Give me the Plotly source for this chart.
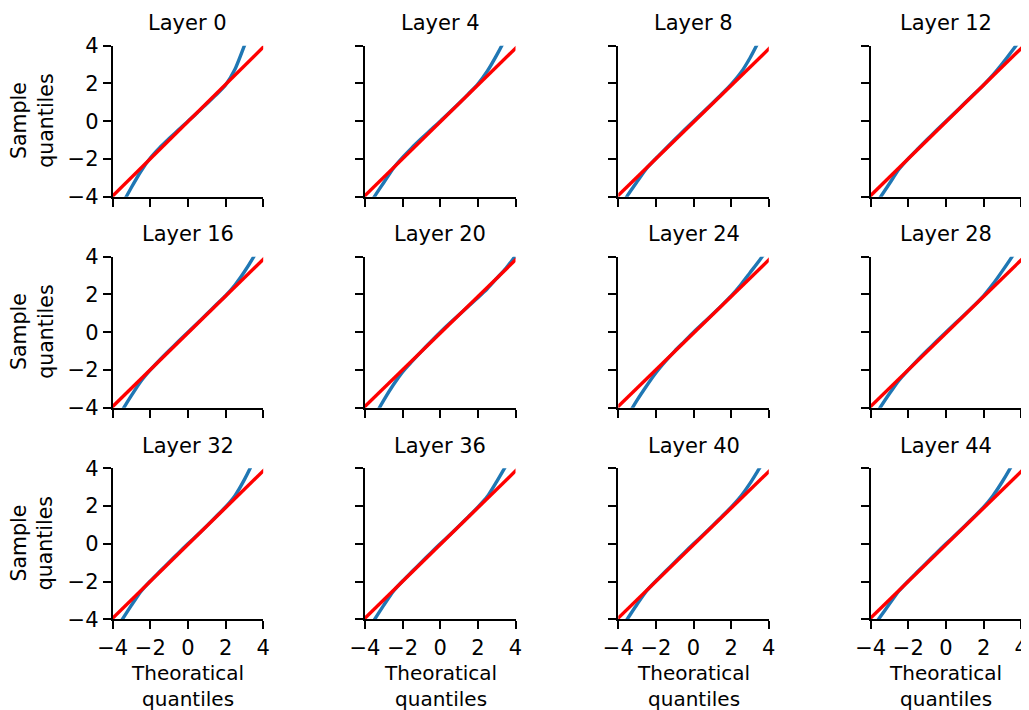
import plotly.graph_objects as go

# ---------------- data ----------------
layers = ["Layer 0", "Layer 4", "Layer 8", "Layer 12",
          "Layer 16", "Layer 20", "Layer 24", "Layer 28",
          "Layer 32", "Layer 36", "Layer 40", "Layer 44"]

theoretical = [-4.5, -4, -3.5, -3, -2.5, -2, -1.5, -1, -0.5, 0,
               0.5, 1, 1.5, 2, 2.5, 3, 3.5, 4, 4.5]

sample_l0 = [-6.5, -5.3, -4.4, -3.5, -2.65, -1.95, -1.4, -0.92, -0.45, 0.0, 0.45, 0.93, 1.4, 1.92, 2.75, 4.0, 5.4, 7.0, 8.5]
sample_l4 = [-5.8, -4.9, -4.0, -3.25, -2.5, -1.92, -1.4, -0.92, -0.45, 0.0, 0.47, 0.95, 1.45, 1.97, 2.65, 3.5, 4.45, 5.5, 6.6]
sample_l8 = [-5.6, -4.75, -3.92, -3.2, -2.5, -1.97, -1.47, -0.97, -0.48, 0.0, 0.47, 0.95, 1.44, 1.95, 2.55, 3.35, 4.3, 5.3, 6.4]
sample_l12 = [-5.8, -4.9, -4.05, -3.3, -2.55, -1.98, -1.47, -0.97, -0.48, 0.0, 0.47, 0.96, 1.44, 1.92, 2.45, 3.05, 3.7, 4.4, 5.2]
sample_l16 = [-6.0, -5.0, -4.15, -3.35, -2.6, -2.0, -1.47, -0.97, -0.48, 0.0, 0.48, 0.96, 1.45, 1.93, 2.5, 3.2, 4.0, 4.9, 5.9]
sample_l20 = [-7.0, -5.6, -4.5, -3.6, -2.8, -2.1, -1.55, -1.02, -0.5, 0.0, 0.47, 0.93, 1.38, 1.83, 2.3, 2.85, 3.4, 4.05, 4.8]
sample_l24 = [-6.8, -5.5, -4.45, -3.6, -2.85, -2.15, -1.55, -1.0, -0.5, 0.0, 0.47, 0.94, 1.42, 1.92, 2.5, 3.15, 3.8, 4.5, 5.3]
sample_l28 = [-5.7, -4.85, -4.0, -3.25, -2.55, -2.0, -1.47, -0.97, -0.48, 0.0, 0.47, 0.94, 1.42, 1.93, 2.55, 3.25, 3.98, 4.8, 5.7]
sample_l32 = [-5.6, -4.8, -4.02, -3.25, -2.52, -1.97, -1.47, -0.97, -0.48, 0.0, 0.47, 0.95, 1.45, 1.95, 2.55, 3.4, 4.4, 5.5, 6.6]
sample_l36 = [-5.6, -4.8, -4.02, -3.25, -2.52, -1.97, -1.47, -0.97, -0.48, 0.0, 0.47, 0.95, 1.44, 1.94, 2.5, 3.3, 4.15, 5.1, 6.1]
sample_l40 = [-5.5, -4.7, -3.95, -3.2, -2.5, -1.97, -1.47, -0.97, -0.48, 0.0, 0.47, 0.95, 1.44, 1.94, 2.5, 3.2, 4.0, 4.8, 5.7]
sample_l44 = [-5.4, -4.6, -3.88, -3.18, -2.5, -1.97, -1.47, -0.97, -0.48, 0.0, 0.47, 0.95, 1.44, 1.94, 2.55, 3.3, 4.15, 5.1, 6.1]

samples = [sample_l0, sample_l4, sample_l8, sample_l12,
           sample_l16, sample_l20, sample_l24, sample_l28,
           sample_l32, sample_l36, sample_l40, sample_l44]

# fitted reference line (slope, intercept) per layer
line_slope = [0.985, 0.975, 0.97, 0.975, 0.975, 0.97, 0.97, 0.97, 0.975, 0.975, 0.97, 0.97]
line_intercept = [-0.02, -0.04, -0.05, -0.04, -0.04, -0.05, -0.05, -0.05, -0.04, -0.04, -0.05, -0.05]

axis_ticks = [-4, -2, 0, 2, 4]

# ---------------- layout geometry (screen pixels; page has an 8px body margin) ----------------
OFF = 8
W, H = 1029 - OFF, 710 - OFF
col_left = [112.7, 365.0, 618.3, 870.7]
row_top = [45.7, 256.7, 468.3]
pw, ph = 150.5, 151.0


def fx(px):
    return (px - OFF) / W


def fy(py):
    return 1 - (py - OFF) / H


FONT = "DejaVu Sans"
fig = go.Figure()
annotations = []
layout_axes = {}

for i, name in enumerate(layers):
    r, c = divmod(i, 4)
    k = i + 1
    xa = "x" if k == 1 else f"x{k}"
    ya = "y" if k == 1 else f"y{k}"
    fig.add_trace(go.Scatter(x=theoretical, y=samples[i], mode="lines", xaxis=xa, yaxis=ya,
                             line=dict(color="#1f77b4", width=3.4, shape="spline", smoothing=0.6),
                             showlegend=False, hoverinfo="skip"))
    lx = [theoretical[0], theoretical[-1]]
    ly = [line_intercept[i] + line_slope[i] * v for v in lx]
    fig.add_trace(go.Scatter(x=lx, y=ly, mode="lines", xaxis=xa, yaxis=ya,
                             line=dict(color="#ff0000", width=3.4),
                             showlegend=False, hoverinfo="skip"))

    common = dict(range=[-4, 4], tickvals=axis_ticks, ticks="outside", ticklen=8,
                  tickwidth=2, tickcolor="black", showline=True, linecolor="black",
                  linewidth=2, showgrid=False, zeroline=False, automargin=False,
                  tickfont=dict(family=FONT, size=21, color="black"))
    layout_axes["xaxis" if k == 1 else f"xaxis{k}"] = dict(
        domain=[fx(col_left[c]), fx(col_left[c] + pw)], anchor=ya,
        showticklabels=(r == 2), **common)
    layout_axes["yaxis" if k == 1 else f"yaxis{k}"] = dict(
        domain=[fy(row_top[r] + ph), fy(row_top[r])], anchor=xa,
        showticklabels=(c == 0), **common)

    annotations.append(dict(text=name, xref="paper", yref="paper",
                            x=fx(col_left[c] + pw / 2), y=fy(row_top[r] - 22.5),
                            xanchor="center", yanchor="middle", showarrow=False,
                            font=dict(family=FONT, size=21, color="black")))
    if c == 0:
        annotations.append(dict(text="Sample<br>quantiles", xref="paper", yref="paper",
                                x=fx(32.5), y=fy(row_top[r] + ph / 2), textangle=-90,
                                xanchor="center", yanchor="middle", showarrow=False,
                                borderpad=0,
                                font=dict(family=FONT, size=20.5, color="black")))
    if r == 2:
        annotations.append(dict(text="Theoratical<br>quantiles", xref="paper", yref="paper",
                                x=fx(col_left[c] + pw / 2), y=fy(686),
                                xanchor="center", yanchor="middle", showarrow=False,
                                borderpad=0,
                                font=dict(family=FONT, size=20, color="black")))

fig.update_layout(width=W, height=H, margin=dict(l=0, r=0, t=0, b=0),
                  paper_bgcolor="white", plot_bgcolor="white",
                  annotations=annotations, **layout_axes)

fig.write_html("out.html")
